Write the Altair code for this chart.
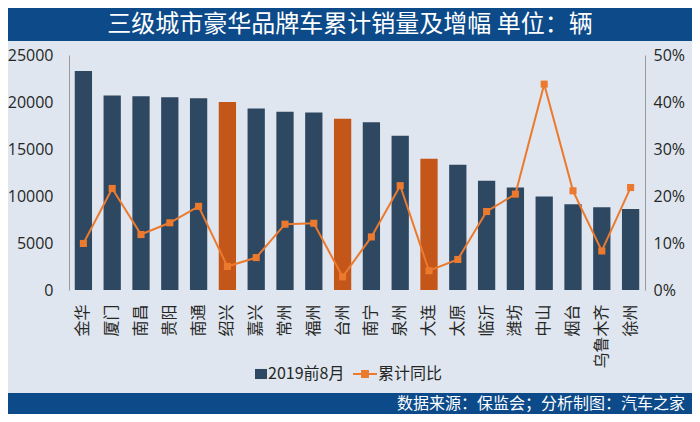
import altair as alt
import pandas as pd

# ---------------- data ----------------
cities = ["金华", "厦门", "南昌", "贵阳", "南通", "绍兴", "嘉兴", "常州", "福州", "台州",
          "南宁", "泉州", "大连", "太原", "临沂", "潍坊", "中山", "烟台", "乌鲁木齐", "徐州"]
sales = [23300, 20700, 20600, 20500, 20400, 20000, 19300, 18950, 18870, 18230,
         17850, 16420, 13970, 13330, 11630, 10900, 9960, 9110, 8790, 8620]
growth_pct = [9.9, 21.6, 11.8, 14.3, 17.8, 5.0, 6.9, 14.0, 14.2, 2.8,
              11.3, 22.2, 4.1, 6.5, 16.7, 20.4, 43.8, 21.1, 8.3, 21.8]
highlight = ["绍兴", "台州", "大连"]
series_names = ["2019前8月", "累计同比"]
y_ticks = [0, 5000, 10000, 15000, 20000, 25000]
pct_ticks = [0, 0.1, 0.2, 0.3, 0.4, 0.5]
title_text = "三级城市豪华品牌车累计销量及增幅 单位：辆"
source_text = "数据来源：保监会；分析制图：汽车之家"

# ---------------- style ----------------
NAVY = "#2f4862"
ORANGE_BAR = "#c4561a"
LINE = "#ec7a2e"
BG = "#dfe6ef"
HEADER = "#0c4a8a"
TXT = "#262626"
CJK = "Noto Sans CJK SC"

W_TOTAL, H_TOTAL = 684, 406
PAD_L, PAD_T = 61, 47
PW, PH = 576, 235
PAD_R = W_TOTAL - PAD_L - PW
PAD_B = H_TOTAL - PAD_T - PH

df = pd.DataFrame({
    "city": cities,
    "sales": sales,
    "growth": [g / 100 for g in growth_pct],
    "hl": [c in highlight for c in cities],
})

x_enc = alt.X(
    "city:N", sort=cities,
    scale=alt.Scale(paddingInner=0.4, paddingOuter=0.2),
    axis=alt.Axis(title=None, labelAngle=270, labelPadding=14,
                  labelFontSize=16, labelFont=CJK, labelColor=TXT,
                  domain=False, ticks=False, labelOverlap=False, labelLimit=0),
)

bars = alt.Chart(df).mark_bar().encode(
    x=x_enc,
    y=alt.Y("sales:Q", scale=alt.Scale(domain=[0, 25000], nice=False),
            axis=alt.Axis(title=None, values=y_ticks, grid=False, ticks=False,
                          domainColor="#9a9a9a", labelFontSize=16, labelPadding=16,
                          labelFont="Open Sans", labelColor=TXT, format="d")),
    color=alt.condition("datum.hl", alt.value(ORANGE_BAR), alt.value(NAVY)),
)

line = alt.Chart(df).mark_line(
    color=LINE, strokeWidth=2,
    point=alt.OverlayMarkDef(shape="square", size=50, filled=True, color=LINE, opacity=1),
).encode(
    x=alt.X("city:N", sort=cities),
    y=alt.Y("growth:Q", scale=alt.Scale(domain=[0, 0.5], nice=False),
            axis=alt.Axis(orient="right", title=None, values=pct_ticks, format=".0%",
                          grid=False, ticks=False, domainColor="#9a9a9a",
                          labelFontSize=16, labelPadding=8, labelFont="Open Sans",
                          labelColor=TXT)),
)

BAR_PATH = "M0,-0.42H1V0.42H0Z"
LINE_PATH = "M-1,-0.085H1V0.085H-1Z M-0.33,-0.33H0.33V0.33H-0.33Z"
leg = alt.Legend(title=None, orient="none", legendX=174, legendY=307,
                 direction="horizontal", labelFontSize=16, labelFont=CJK,
                 labelColor=TXT, symbolSize=576, labelOffset=1, columnPadding=8,
                 padding=0, symbolStrokeWidth=0)
leg_df = pd.DataFrame({"series": series_names})
legend_layer = alt.Chart(leg_df).mark_point(filled=True, opacity=1).encode(
    x=alt.value(-500), y=alt.value(-500),
    color=alt.Color("series:N", scale=alt.Scale(domain=series_names, range=[NAVY, LINE]), legend=leg),
    shape=alt.Shape("series:N", scale=alt.Scale(domain=series_names, range=[BAR_PATH, LINE_PATH]), legend=leg),
)

one = pd.DataFrame({"k": [0]})
header = alt.Chart(one).mark_rect(color=HEADER).encode(
    x=alt.value(-PAD_L), x2=alt.value(W_TOTAL - PAD_L),
    y=alt.value(-PAD_T - 5), y2=alt.value(33 - PAD_T),
)
footer = alt.Chart(one).mark_rect(color=HEADER).encode(
    x=alt.value(-PAD_L), x2=alt.value(W_TOTAL - PAD_L),
    y=alt.value(385 - PAD_T), y2=alt.value(H_TOTAL - PAD_T + 10),
)
title_mark = alt.Chart(one).mark_text(
    font=CJK, fontSize=24, color="white", align="center", baseline="middle",
).encode(x=alt.value(342 - PAD_L), y=alt.value(17 - PAD_T), text=alt.value(title_text))
source_mark = alt.Chart(one).mark_text(
    font=CJK, fontSize=16, color="white", align="right", baseline="middle",
).encode(x=alt.value(677 - PAD_L), y=alt.value(396 - PAD_T), text=alt.value(source_text))

chart = alt.layer(header, footer, bars, line, legend_layer, title_mark, source_mark).resolve_scale(
    y="independent"
).properties(
    width=PW, height=PH,
    padding={"left": PAD_L, "top": PAD_T, "right": PAD_R, "bottom": PAD_B},
    autosize=alt.AutoSizeParams(type="none"),
    background=BG,
).configure_view(stroke=None)

chart.save("out.html", embed_options={"renderer": "svg", "actions": False})
